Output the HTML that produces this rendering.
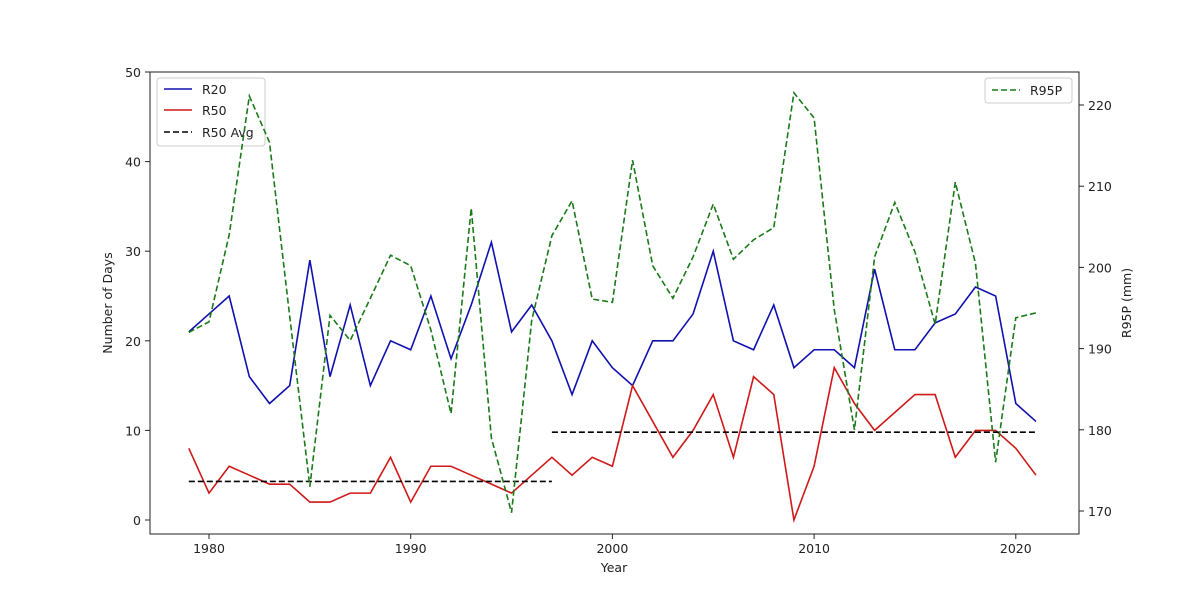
<!DOCTYPE html>
<html><head><meta charset="utf-8"><style>
body{margin:0;background:#fff;font-family:"Liberation Sans","DejaVu Sans",sans-serif;}
svg text{font-family:"DejaVu Sans","Liberation Sans",sans-serif;font-size:12.5px;fill:#222;}
</style></head><body>
<svg id="chart" width="1200" height="600">
<rect x="150" y="72" width="929" height="462" fill="none" stroke="#222" stroke-width="1"/>
<g>
<rect x="157" y="78" width="108" height="68" rx="3" fill="#fff" stroke="#ccc"/>
<line x1="164" y1="89" x2="192" y2="89" stroke="#1010b0" stroke-width="1.6"/>
<text x="202" y="94">R20</text>
<line x1="164" y1="110" x2="192" y2="110" stroke="#d01818" stroke-width="1.6"/>
<text x="202" y="115">R50</text>
<line x1="164" y1="132" x2="192" y2="132" stroke="#000" stroke-width="1.6" stroke-dasharray="6,3"/>
<text x="202" y="137">R50 Avg</text>
</g>
<g id="axes"></g><g id="series"></g>
<text x="614" y="572" text-anchor="middle">Year</text>
<text transform="translate(112,303) rotate(-90)" text-anchor="middle">Number of Days</text>
<text transform="translate(1131,303) rotate(-90)" text-anchor="middle">R95P (mm)</text>
<g>
<rect x="985" y="78" width="87" height="25" rx="3" fill="#fff" stroke="#ccc"/>
<line x1="992" y1="90" x2="1020" y2="90" stroke="#1a7a1a" stroke-width="1.6" stroke-dasharray="6,3"/>
<text x="1030" y="95">R95P</text>
</g>
</svg>
<script>
const years=[];for(let y=1979;y<=2021;y++)years.push(y);
const r20=[21,23,25,16,13,15,29,16,24,15,20,19,25,18,24,31,21,24,20,14,20,17,15,20,20,23,30,20,19,24,17,19,19,17,28,19,19,22,23,26,25,13,11];
const r50=[8,3,6,5,4,4,2,2,3,3,7,2,6,6,5,4,3,5,7,5,7,6,15,11,7,10,14,7,16,14,0,6,17,13,10,12,14,14,7,10,10,8,5];
const r95p=[192,193.3,204,221.1,215.4,194,173,194.1,191,196.2,201.5,200.2,192.3,182,207.3,179,169.8,193.5,203.9,208.2,196.1,195.7,213.2,200.2,196.2,201.3,207.8,201,203.4,204.9,221.5,218.4,194.8,180,201.3,208,201.9,193,210.5,200.5,176,193.8,194.4];
const avgPeriods=[[1979,1997,4.3],[1997,2021,9.8]];
const xTicks=[1980,1990,2000,2010,2020];
const yTicks=[0,10,20,30,40,50];
const y2Ticks=[170,180,190,200,210,220];
const NS="http://www.w3.org/2000/svg";
const X=v=>209+(v-1980)*20.17;
const Y=v=>520-v*8.96;
const Y2=v=>511-(v-170)*8.12;
const ax=document.getElementById('axes'),se=document.getElementById('series');
function mk(t,a,p){const e=document.createElementNS(NS,t);for(const k in a)e.setAttribute(k,a[k]);p.appendChild(e);return e;}
xTicks.forEach(v=>{const g=mk('g',{},ax);


mk('line',{x1:X(v),x2:X(v),y1:534,y2:539,stroke:'#222'},g);const t=mk('text',{x:X(v),y:553,'text-anchor':'middle'},g);t.textContent=v;});
yTicks.forEach(v=>{const g=mk('g',{},ax);


mk('line',{x1:145,x2:150,y1:Y(v),y2:Y(v),stroke:'#222'},g);const t=mk('text',{x:141,y:Y(v)+5,'text-anchor':'end'},g);t.textContent=v;});
y2Ticks.forEach(v=>{const g=mk('g',{},ax);


mk('line',{x1:1079,x2:1084,y1:Y2(v),y2:Y2(v),stroke:'#222'},g);const t=mk('text',{x:1088,y:Y2(v)+5},g);t.textContent=v;});
function line(vals,f,color,dash,name){const p=mk('polyline',{points:vals.map((v,i)=>X(years[i])+','+f(v)).join(' '),fill:'none',stroke:color,'stroke-width':1.6},se);if(dash)p.setAttribute('stroke-dasharray',dash);

}
line(r20,Y,'#1010b0',null,'r20-line');
line(r50,Y,'#d01818',null,'r50-line');
avgPeriods.forEach(p=>{const l=mk('line',{x1:X(p[0]),x2:X(p[1]),y1:Y(p[2]),y2:Y(p[2]),stroke:'#000','stroke-width':1.6,'stroke-dasharray':'6,3'},se);

});
line(r95p,Y2,'#1a7a1a','6,3','r95p-line');
</script>
</body></html>
